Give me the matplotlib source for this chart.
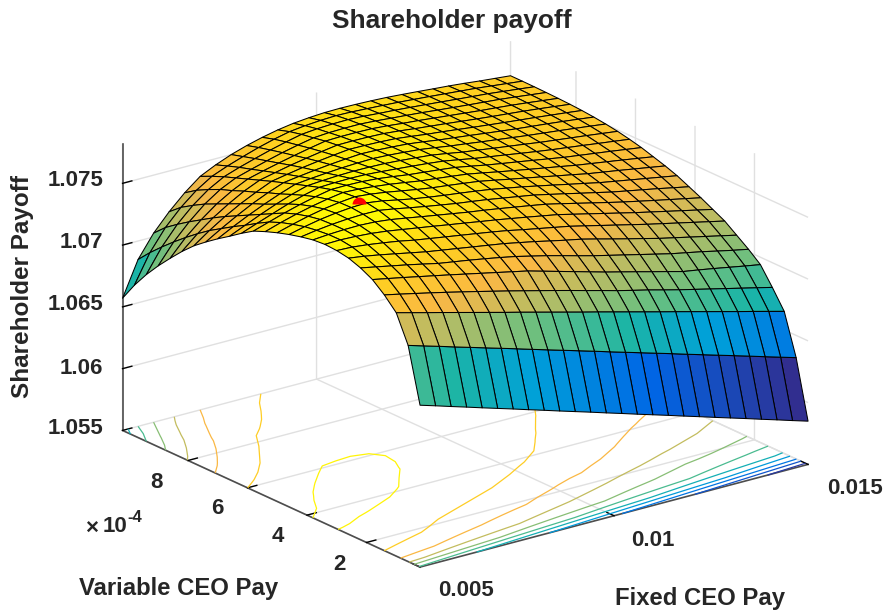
import matplotlib
matplotlib.use("Agg")
import numpy as np
import matplotlib.pyplot as plt
from matplotlib.colors import LinearSegmentedColormap, Normalize

# Values. Mesh is coarser than the reference (25 x 25 cells).
fixed_pay_milli = [5.0,5.4,5.8,6.2,6.6,7.0,7.4,7.8,8.2,8.6,9.0,9.4,9.8,10.2,10.6,11.0,11.4,11.8,12.2,12.6,13.0,13.4,13.8,14.2,14.6,15.0]
variable_pay_e4 = [0.2,0.6,1.0,1.4,1.8,2.2,2.6,3.0,3.4,3.8,4.2,4.6,5.0,5.4,5.8,6.2,6.6,7.0,7.4,7.8,8.2,8.6,9.0,9.4,9.8,10.2]
# payoff = 1 + value * 1e-5; one row per variable pay, one column per fixed pay
payoff_rows = [
 [6810,6772,6733,6695,6656,6618,6580,6541,6503,6464,6426,6388,6349,6311,6272,6234,6196,6157,6119,6080,6042,6004,5965,5927,5888,5850],
 [7250,7213,7176,7138,7101,7064,7027,6990,6952,6915,6878,6841,6804,6766,6729,6692,6655,6618,6580,6543,6506,6469,6432,6394,6357,6320],
 [7470,7437,7404,7372,7339,7306,7273,7240,7208,7175,7142,7109,7076,7044,7011,6978,6945,6912,6880,6847,6814,6781,6748,6716,6683,6650],
 [7570,7543,7515,7487,7458,7428,7398,7367,7336,7304,7272,7240,7207,7173,7140,7106,7075,7045,7012,6980,6950,6920,6890,6860,6830,6800],
 [7650,7625,7600,7574,7548,7522,7495,7468,7441,7414,7387,7352,7317,7282,7247,7212,7180,7148,7115,7083,7050,7030,7008,6985,6962,6940],
 [7700,7675,7650,7625,7598,7570,7550,7530,7508,7485,7460,7430,7400,7367,7333,7300,7270,7240,7210,7180,7150,7125,7100,7072,7045,7020],
 [7735,7717,7695,7670,7645,7620,7600,7580,7560,7540,7520,7495,7470,7442,7415,7390,7358,7325,7293,7262,7230,7202,7174,7146,7118,7090],
 [7752,7747,7733,7715,7695,7670,7650,7630,7610,7590,7570,7548,7522,7498,7474,7450,7420,7390,7360,7330,7300,7272,7244,7216,7188,7160],
 [7758,7761,7756,7747,7732,7712,7692,7672,7651,7631,7610,7590,7568,7546,7523,7500,7470,7440,7410,7380,7350,7322,7294,7266,7238,7210],
 [7750,7760,7766,7768,7762,7748,7727,7705,7684,7663,7642,7624,7604,7583,7562,7540,7511,7481,7451,7421,7392,7365,7338,7312,7286,7260],
 [7730,7750,7765,7775,7780,7778,7757,7733,7710,7689,7668,7651,7633,7612,7591,7570,7542,7514,7485,7457,7428,7404,7380,7356,7330,7305],
 [7705,7735,7760,7778,7790,7795,7778,7752,7728,7708,7690,7674,7657,7638,7615,7592,7566,7540,7513,7487,7460,7438,7416,7394,7372,7350],
 [7675,7710,7742,7768,7787,7800,7788,7770,7748,7726,7707,7692,7676,7659,7635,7610,7586,7562,7537,7513,7488,7468,7448,7427,7406,7385],
 [7640,7680,7715,7745,7770,7790,7784,7772,7757,7738,7718,7704,7689,7673,7650,7625,7602,7579,7557,7535,7512,7493,7474,7455,7435,7415],
 [7600,7640,7680,7715,7745,7770,7771,7768,7758,7742,7724,7711,7698,7683,7660,7636,7615,7595,7574,7553,7532,7515,7498,7481,7463,7445],
 [7538,7585,7630,7675,7712,7743,7748,7750,7747,7738,7727,7716,7704,7690,7668,7645,7626,7607,7587,7568,7550,7534,7518,7501,7485,7468],
 [7470,7525,7580,7630,7675,7712,7721,7728,7731,7730,7726,7717,7706,7694,7674,7652,7635,7617,7600,7583,7565,7550,7535,7520,7504,7488],
 [7405,7470,7530,7585,7635,7680,7693,7704,7713,7719,7722,7716,7706,7695,7677,7658,7642,7625,7609,7593,7577,7563,7549,7534,7519,7503],
 [7335,7410,7480,7545,7600,7648,7666,7682,7696,7707,7716,7712,7705,7696,7680,7662,7647,7632,7616,7601,7586,7573,7560,7546,7531,7515],
 [7260,7350,7430,7500,7560,7615,7638,7660,7678,7694,7708,7706,7702,7695,7680,7664,7651,7636,7621,7607,7593,7580,7567,7553,7539,7524],
 [7170,7280,7375,7455,7525,7580,7608,7635,7658,7679,7698,7699,7697,7692,7680,7665,7652,7639,7625,7611,7598,7586,7574,7560,7545,7530],
 [7070,7205,7315,7410,7485,7545,7578,7608,7636,7662,7686,7690,7690,7687,7677,7664,7653,7640,7627,7614,7601,7590,7578,7564,7549,7534],
 [6965,7125,7255,7365,7450,7510,7547,7582,7615,7643,7668,7677,7680,7680,7672,7661,7651,7640,7627,7615,7603,7592,7581,7567,7552,7537],
 [6850,7040,7190,7310,7405,7475,7518,7556,7592,7624,7652,7664,7670,7672,7666,7656,7648,7638,7627,7616,7604,7593,7582,7568,7554,7539],
 [6720,6950,7120,7250,7355,7435,7485,7528,7568,7602,7630,7645,7655,7660,7657,7650,7643,7635,7625,7615,7604,7593,7582,7568,7554,7540],
 [6570,6850,7030,7170,7290,7390,7450,7500,7540,7573,7600,7620,7632,7640,7642,7640,7636,7630,7621,7611,7600,7590,7578,7564,7552,7540],
]
contour_levels = [1.0595,1.0613,1.0631,1.0649,1.0667,1.0685,1.0703,1.0721,1.0739,1.0757,1.0775]
peak_fixed = 0.0068
peak_variable = 4.6e-4
peak_payoff = 1.0780

x_ticks = [0.005, 0.01, 0.015]
x_tick_labels = ["0.005", "0.01", "0.015"]
y_ticks = [2e-4, 4e-4, 6e-4, 8e-4]
y_tick_labels = ["2", "4", "6", "8"]
z_ticks = [1.055, 1.06, 1.065, 1.07, 1.075]
z_tick_labels = ["1.055", "1.06", "1.065", "1.07", "1.075"]

W, H = 888, 615
plt.rcParams['font.family'] = ['Liberation Sans', 'DejaVu Sans']
fig = plt.figure(figsize=(W/100, H/100), dpi=100)

CX, CY, S = 453.4, 316.0, 880
ax = fig.add_axes([(CX-S/2)/W, (H-CY-S/2)/H, S/W, S/H], projection='3d', proj_type='ortho')
ax.patch.set_alpha(0)
ax.set_box_aspect((489, 494, 307), zoom=0.835)
ax.view_init(elev=20.4, azim=-127.2)
ax.computed_zorder = False

X, Y = np.meshgrid(np.array(fixed_pay_milli)*1e-3, np.array(variable_pay_e4)*1e-4)
Z = 1 + np.array(payoff_rows)*1e-5

cmap = LinearSegmentedColormap.from_list('p', [
    (0.00,(0.21,0.16,0.53)),(0.20,(0.00,0.40,0.90)),(0.35,(0.00,0.63,0.85)),
    (0.45,(0.11,0.71,0.65)),(0.56,(0.42,0.75,0.50)),(0.67,(0.70,0.74,0.40)),
    (0.79,(0.98,0.72,0.27)),(0.90,(1.00,0.82,0.12)),(1.00,(1.00,1.00,0.00))])
norm = Normalize(Z.min(), Z.max())

ax.contour(X, Y, Z, levels=contour_levels, zdir='z', offset=1.055, cmap=cmap,
           norm=norm, linewidths=0.9, zorder=1)
# Each cell takes the colour of its first corner, as flat MATLAB shading does.
ax.plot_surface(X, Y, Z, rstride=1, cstride=1, facecolors=cmap(norm(Z)),
                shade=False, edgecolor='black', linewidth=0.75, antialiased=True, zorder=2)
ax.plot([peak_fixed], [peak_variable], [peak_payoff], marker='o', fillstyle='top', color='red',
        markerfacecoloralt='none', markeredgewidth=0, markersize=10, linestyle='none', zorder=3)

ax.set_xlim(0.005, 0.015, view_margin=0)
ax.set_ylim(0.2e-4, 10.2e-4, view_margin=0)
ax.set_zlim(1.055, 1.0782, view_margin=0)
ax.set_xticks(x_ticks); ax.set_yticks(y_ticks); ax.set_zticks(z_ticks)
for axis in (ax.xaxis, ax.yaxis, ax.zaxis):
    axis.set_ticklabels([])
    axis.set_pane_color((1, 1, 1, 0))
    axis.pane.set_edgecolor((1, 1, 1, 0))
    axis.line.set_color((0.3, 0.3, 0.3))
    axis.line.set_linewidth(1.2)
    axis._axinfo['grid'].update(color=(0.88, 0.88, 0.88), linewidth=1.0)
    axis._axinfo['tick'].update(inward_factor=0.0, outward_factor=0.3, color=(0.2, 0.2, 0.2), linewidth={True: 1.0, False: 0.5})

ink = (0.15, 0.15, 0.15)
def put(px, py, s, size=16, **kw):
    kw.setdefault('ha', 'center'); kw.setdefault('va', 'center')
    fig.text(px/W, 1-py/H, s, fontsize=size, fontweight='bold', color=ink, **kw)

for (px, py), s in zip([(466, 590), (653, 540), (855, 488)], x_tick_labels):
    put(px, py, s)
for (px, py), s in zip([(339, 564), (278, 537), (217, 509), (156, 482)], y_tick_labels):
    put(px, py, s)
for py, s in zip([429, 368, 305, 243, 181], z_tick_labels):
    put(103, py, s, ha='right')
put(92, 528, "×", size=16)
put(115, 527, "10", size=16)
put(135, 518, "-4", size=12)
put(700, 598, "Fixed CEO Pay", size=17.2)
put(179, 588, "Variable CEO Pay", size=17.2)
put(23, 286, "Shareholder Payoff", size=17.5, rotation=90)
put(452, 21, "Shareholder payoff", size=18.9)

fig.savefig("out.png", dpi=100)
